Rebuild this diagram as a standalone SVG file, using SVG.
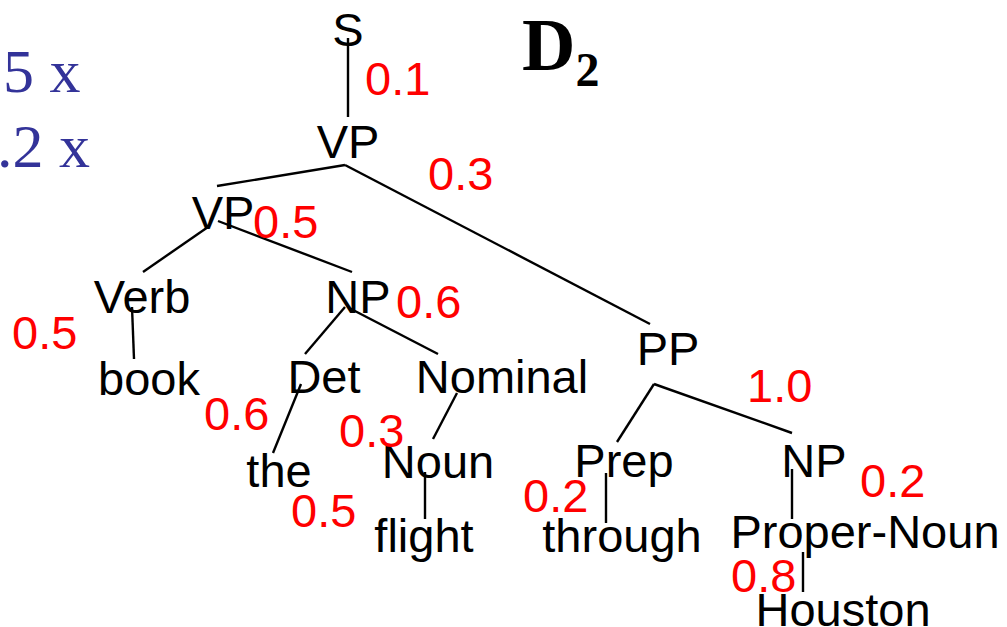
<svg xmlns="http://www.w3.org/2000/svg" width="1007" height="627" viewBox="0 0 1007 627">
<style>
.n{font-family:"Liberation Sans",Arial,sans-serif;font-size:47px;fill:#000;text-anchor:middle}
.p{font-family:"Liberation Sans",Arial,sans-serif;font-size:47px;fill:#ff0000}
.b{font-family:"Liberation Serif","Times New Roman",serif;font-size:62px;fill:#333399}
.e{stroke:#000;stroke-width:2.4;fill:none}
</style>
<rect width="1007" height="627" fill="#fff"/>
<text class="b" x="3" y="92">5 x</text>
<text class="b" x="-3" y="167">.2 x</text>
<text x="522" y="70" font-family="Liberation Serif,'Times New Roman',serif" font-weight="bold" font-size="74" fill="#000">D<tspan font-size="48" dy="16">2</tspan></text>
<g id="edges">
<line class="e" x1="348" y1="38" x2="348" y2="117"/>
<line class="e" x1="345" y1="165" x2="217" y2="186"/>
<line class="e" x1="345" y1="165" x2="650" y2="324"/>
<line class="e" x1="208" y1="227" x2="143" y2="272"/>
<line class="e" x1="218" y1="221" x2="352" y2="272"/>
<line class="e" x1="132" y1="307" x2="134" y2="359"/>
<line class="e" x1="345" y1="307" x2="305" y2="354"/>
<line class="e" x1="353" y1="310" x2="438" y2="354"/>
<line class="e" x1="301" y1="384" x2="273" y2="453"/>
<line class="e" x1="457" y1="393" x2="433" y2="439"/>
<line class="e" x1="425" y1="472" x2="425" y2="519"/>
<line class="e" x1="654" y1="384" x2="617" y2="442"/>
<line class="e" x1="654" y1="384" x2="792" y2="433"/>
<line class="e" x1="606" y1="473" x2="606" y2="523"/>
<line class="e" x1="792" y1="469" x2="792" y2="519"/>
<line class="e" x1="803" y1="552" x2="803" y2="592"/>
</g>
<g id="n-S"><text class="n" x="348" y="46">S</text></g>
<g id="n-VP1"><text class="n" x="348" y="158">VP</text></g>
<g id="n-VP2"><text class="n" x="223" y="229">VP</text></g>
<g id="n-Verb"><text class="n" x="142" y="313">Verb</text></g>
<g id="n-NP1"><text class="n" x="358" y="313">NP</text></g>
<g id="n-book"><text class="n" x="149" y="395">book</text></g>
<g id="n-Det"><text class="n" x="324" y="393">Det</text></g>
<g id="n-Nominal"><text class="n" x="502" y="393">Nominal</text></g>
<g id="n-the"><text class="n" x="279" y="487">the</text></g>
<g id="n-Noun"><text class="n" x="438" y="478">Noun</text></g>
<g id="n-flight"><text class="n" x="424" y="552">flight</text></g>
<g id="n-PP"><text class="n" x="668" y="365">PP</text></g>
<g id="n-Prep"><text class="n" x="624" y="477">Prep</text></g>
<g id="n-NP2"><text class="n" x="814" y="477">NP</text></g>
<g id="n-through"><text class="n" x="622" y="552">through</text></g>
<g id="n-ProperNoun"><text class="n" x="865" y="548">Proper-Noun</text></g>
<g id="n-Houston"><text class="n" x="843" y="626">Houston</text></g>
<g id="probs">
<text class="p" x="365" y="95">0.1</text>
<text class="p" x="428" y="190">0.3</text>
<text class="p" x="253" y="238">0.5</text>
<text class="p" x="396" y="318">0.6</text>
<text class="p" x="12" y="349">0.5</text>
<text class="p" x="204" y="430">0.6</text>
<text class="p" x="339" y="447">0.3</text>
<text class="p" x="291" y="527">0.5</text>
<text class="p" x="747" y="402">1.0</text>
<text class="p" x="523" y="512">0.2</text>
<text class="p" x="860" y="497">0.2</text>
<text class="p" x="731" y="592">0.8</text>
</g>
</svg>
